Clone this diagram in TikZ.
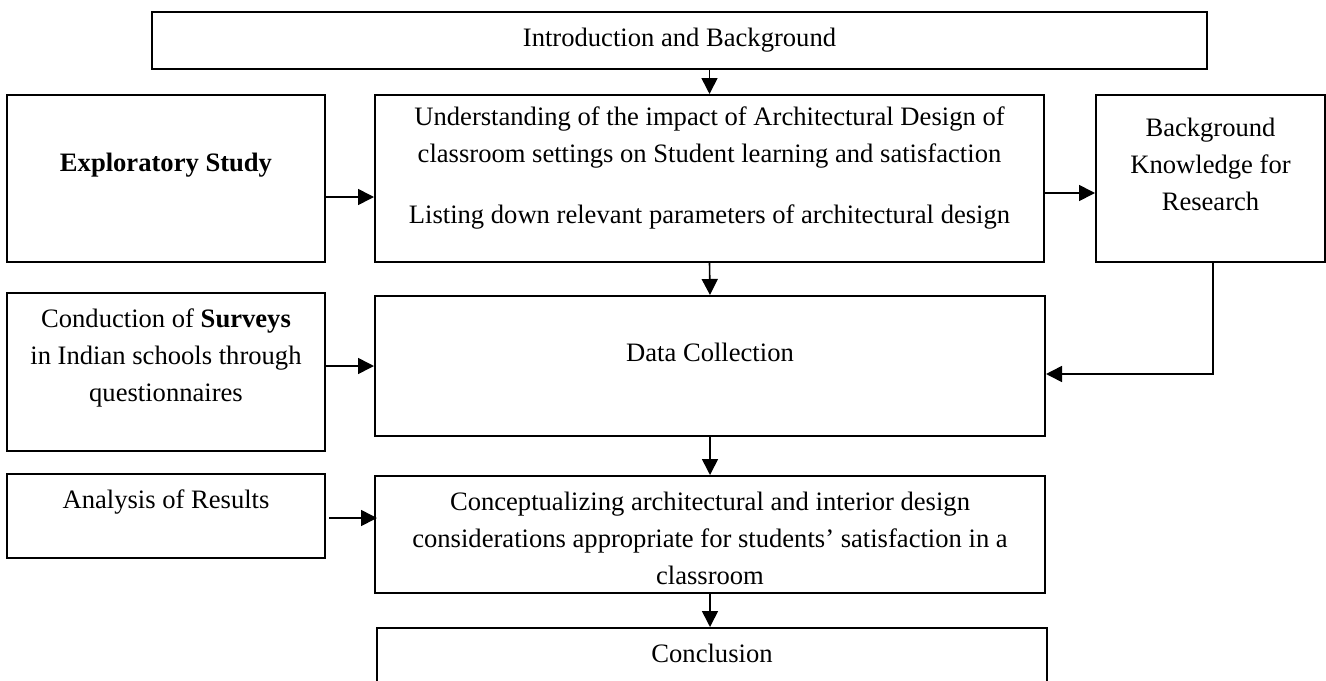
\documentclass[tikz,border=0pt]{standalone}
\usepackage{fontspec}
\setmainfont{Liberation Serif}
\usetikzlibrary{arrows.meta,calc,positioning}

\tikzset{
    box/.style={draw, line width=1pt, inner sep=0pt},
    txt/.style={align=center, inner sep=0pt, font=\fontsize{13.3pt}{18.5pt}\selectfont},
    arr/.style={line width=0.8pt, -{Triangle[length=8pt,width=8pt]}}
}

\begin{document}
\begin{tikzpicture}[x=0.5pt,y=-0.5pt]

    % Fix the page to the reference size
    \useasboundingbox (0,0) rectangle (1326,680);
    \clip (0,0) rectangle (1326,680);

    % Draw the boxes
    \node[box, minimum width=527.5pt, minimum height=28.5pt] (intro) at (679.5,40.5) {};
    \node[box, minimum width=159pt, minimum height=83.5pt] (explore) at (166,178.5) {};
    \node[box, minimum width=334.5pt, minimum height=83.5pt] (understand) at (709.5,178.5) {};
    \node[box, minimum width=114.5pt, minimum height=83.5pt] (backgr) at (1210.5,178.5) {};
    \node[box, minimum width=159pt, minimum height=79pt] (survey) at (166,372) {};
    \node[box, minimum width=335pt, minimum height=70pt] (data) at (710,366) {};
    \node[box, minimum width=159pt, minimum height=42pt] (analysis) at (166,516) {};
    \node[box, minimum width=335pt, minimum height=58.5pt] (concept) at (710,534.5) {};
    \node[box, minimum width=335pt, minimum height=46pt] (conclusion) at (712,674) {};

    % Texts inside the boxes
    \node[txt] (introText) at (679.5,40) {Introduction and Background};
    \node[txt] (exploreText) at (166,165) {\textbf{Exploratory Study}};
    \node[txt] (understandText) at (709.5,168) {Understanding of the impact of Architectural Design of\\
        classroom settings on Student learning and satisfaction\\[12pt]
        Listing down relevant parameters of architectural design};
    \node[txt] (backgrText) at (1210.5,164) {Background\\Knowledge for\\Research};
    \node[txt] (surveyText) at (166,358) {Conduction of \textbf{Surveys}\\in Indian schools through\\questionnaires};
    \node[txt] (dataText) at (710,352) {Data Collection};
    \node[txt] (analysisText) at (166,502) {Analysis of Results};
    \node[txt] (conceptText) at (710,538) {Conceptualizing architectural and interior design\\
        considerations appropriate for students' satisfaction in a\\
        classroom};
    \node[txt] (conclusionText) at (712,653) {Conclusion};

    % Draw the arrows down the middle
    \draw[arr] (intro.south -| understand.north) -- (understand.north);
    \draw[arr] (understand.south) -- (data.north);
    \draw[arr] (data.south) -- (concept.north);
    \draw[arr] (concept.south) -- (concept.south |- conclusion.north);

    % Draw the arrows from the sides
    \draw[arr] ([yshift=-9.25pt]explore.east) -- ([yshift=-9.25pt]understand.west);
    \draw[arr] ([yshift=-7.25pt]understand.east) -- ([yshift=-7.25pt]backgr.west);
    \draw[arr] ([yshift=3pt]survey.east) -- (data.west);
    \draw[arr] ([xshift=1.5pt,yshift=-1pt]analysis.east) -- ([xshift=1.5pt,yshift=-1pt]analysis.east -| concept.west);
    \draw[arr] ([xshift=1.25pt]backgr.south) |- ([yshift=-4pt]data.east);

\end{tikzpicture}
\end{document}
